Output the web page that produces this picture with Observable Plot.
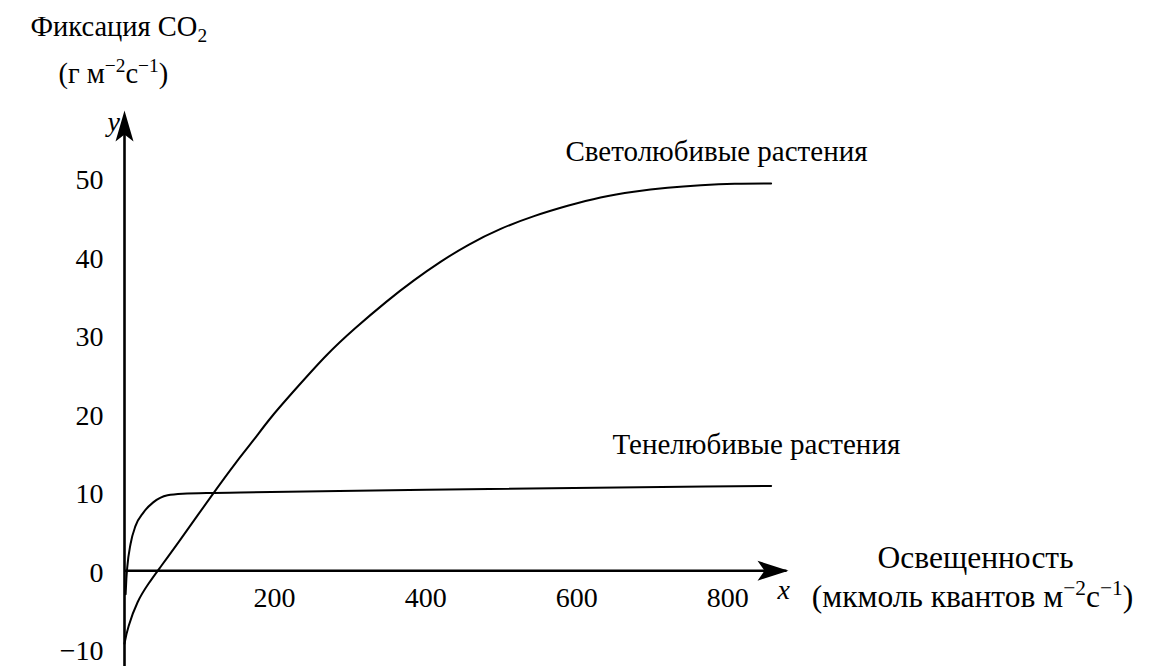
<!DOCTYPE html>
<html>
<head>
<meta charset="utf-8">
<script src="https://cdn.jsdelivr.net/npm/d3@7"></script>
<script src="https://cdn.jsdelivr.net/npm/@observablehq/plot@0.6"></script>
<style>
  html, body { margin: 0; padding: 0; background: #fff; }
  #chart svg { display: block; }
  #chart svg text, #chart svg tspan { font-family: "Liberation Serif", "DejaVu Serif", serif !important; }
</style>
</head>
<body>
<div id="chart"></div>
<script>
// ---- Data ----
const sunX = [0, 4, 17, 32, 44, 70, 117, 149, 171, 193, 229, 268, 304, 348, 383, 419, 454, 498, 542, 587, 630, 674, 719, 763, 807, 856];
const sunY = [-9.3, -7.3, -3.8, -1.6, 0, 3.4, 9.8, 14, 16.6, 19.5, 23.4, 27.6, 30.8, 34.4, 37.0, 39.4, 41.5, 43.6, 45.2, 46.5, 47.6, 48.3, 48.8, 49.1, 49.3, 49.3];
const shadeX = [1.5, 2.5, 3.6, 8, 14.6, 25, 38, 57, 77, 118, 154, 400, 856];
const shadeY = [-3, -1, 0.4, 3.4, 5.7, 7.4, 8.7, 9.6, 9.8, 9.9, 9.95, 10.3, 10.8];
const xTicks = [200, 400, 600, 800];
const yTicks = [-10, 0, 10, 20, 30, 40, 50];
const seriesNames = ["Светолюбивые растения", "Тенелюбивые растения"];
const yTitle = ["Фиксация CO_{2}", "(г м^{−2}с^{−1})"];
const xTitle = ["Освещенность", "(мкмоль квантов м^{−2}с^{−1})"];

const xMin = 0, xMax = 879, yMin = -12.2, yMax = 58.6;

const sun = sunX.map((x, i) => ({x, y: sunY[i]}));
const shade = shadeX.map((x, i) => ({x, y: shadeY[i]}));

const W = 1149, H = 666;
const ML = 124, MR = W - 788, MT = 110, MB = 0;
const FONT = "'Liberation Serif', 'DejaVu Serif', serif";
const FS = 28;

// stealth-like arrowheads (tip at origin)
const arrowUp = { draw(ctx) { ctx.moveTo(0, 0); ctx.lineTo(9, 31); ctx.lineTo(0, 24); ctx.lineTo(-9, 31); ctx.closePath(); } };
const arrowRight = { draw(ctx) { ctx.moveTo(0, 0); ctx.lineTo(-31, -10); ctx.lineTo(-24, 0); ctx.lineTo(-31, 10); ctx.closePath(); } };

// absolute-pixel annotation helper
const at = (X, Y) => ({frameAnchor: "top-left", dx: X - ML, dy: Y - MT});
const T = {fontSize: FS, fontFamily: FONT};

const plot = Plot.plot({
  width: W, height: H,
  marginLeft: ML, marginRight: MR, marginTop: MT, marginBottom: MB,
  x: {domain: [xMin, xMax], axis: null},
  y: {domain: [yMin, yMax], axis: null},
  style: {fontFamily: FONT, fontSize: FS + "px", color: "#000", background: "#fff", overflow: "visible"},
  marks: [
    // axes
    Plot.ruleX([0], {y1: yMin, y2: yMax - 2, stroke: "#000", strokeWidth: 2.6}),
    Plot.ruleY([0], {x1: 0, x2: xMax - 2, stroke: "#000", strokeWidth: 2.6}),
    Plot.dot([{x: 0, y: yMax}], {x: "x", y: "y", symbol: arrowUp, fill: "#000", stroke: null, r: 5}),
    Plot.dot([{x: xMax, y: 0}], {x: "x", y: "y", symbol: arrowRight, fill: "#000", stroke: null, r: 5}),
    // tick labels
    Plot.text(yTicks, {x: 0, y: d => d, text: d => d < 0 ? "−" + Math.abs(d) : String(d), textAnchor: "end", dx: -21, dy: 2, ...T}),
    Plot.text(xTicks, {x: d => d, y: 0, text: d => String(d), dy: 27, dx: -1, ...T}),
    // axis letters
    Plot.text(["y"], {...at(107, 130), text: d => d, fontStyle: "italic", lineAnchor: "bottom", ...T}),
    Plot.text(["x"], {...at(777, 598), text: d => d, fontStyle: "italic", lineAnchor: "bottom", ...T}),
    // curves
    Plot.line(sun, {x: "x", y: "y", stroke: "#000", strokeWidth: 2, curve: "basis"}),
    Plot.line(shade, {x: "x", y: "y", stroke: "#000", strokeWidth: 2, curve: "monotone-x"}),
    // series labels
    Plot.text([seriesNames[0]], {...at(565, 160), text: d => d, textAnchor: "start", lineAnchor: "bottom", ...T, fontSize: 29}),
    Plot.text([seriesNames[1]], {...at(612, 453), text: d => d, textAnchor: "start", lineAnchor: "bottom", ...T, fontSize: 29}),
    // axis titles
    Plot.text([yTitle[0]], {...at(30, 35), text: d => d, textAnchor: "start", lineAnchor: "bottom", ...T, fontSize: 28.5}),
    Plot.text([yTitle[1]], {...at(58, 82), text: d => d, textAnchor: "start", lineAnchor: "bottom", ...T, fontSize: 28.5}),
    Plot.text([xTitle[0]], {...at(975, 567), text: d => d, textAnchor: "middle", lineAnchor: "bottom", ...T, fontSize: 31.5}),
    Plot.text([xTitle[1]], {...at(972, 606), text: d => d, textAnchor: "middle", lineAnchor: "bottom", ...T, fontSize: 31.5})
  ]
});

// turn ^{..} and _{..} into real superscript / subscript tspans
d3.select(plot).selectAll("text").each(function() {
  const el = this;
  const src = el.textContent;
  if (!/[\^_]\{/.test(src)) return;
  el.textContent = "";
  const re = /(\^|_)\{([^}]*)\}|([^^_]+)/g;
  let m, shift = 0;
  while ((m = re.exec(src))) {
    const t = document.createElementNS("http://www.w3.org/2000/svg", "tspan");
    if (m[3] !== undefined) {
      t.textContent = m[3];
      if (shift) { t.setAttribute("dy", (-shift) + "em"); shift = 0; }
    } else {
      const sup = m[1] === "^";
      const s = sup ? -0.38 : 0.22;
      t.textContent = m[2];
      t.setAttribute("font-size", "0.68em");
      t.setAttribute("dy", ((s - shift) / 0.68) + "em");
      shift = s;
    }
    el.appendChild(t);
  }
});

document.getElementById("chart").appendChild(plot);
</script>
</body>
</html>
